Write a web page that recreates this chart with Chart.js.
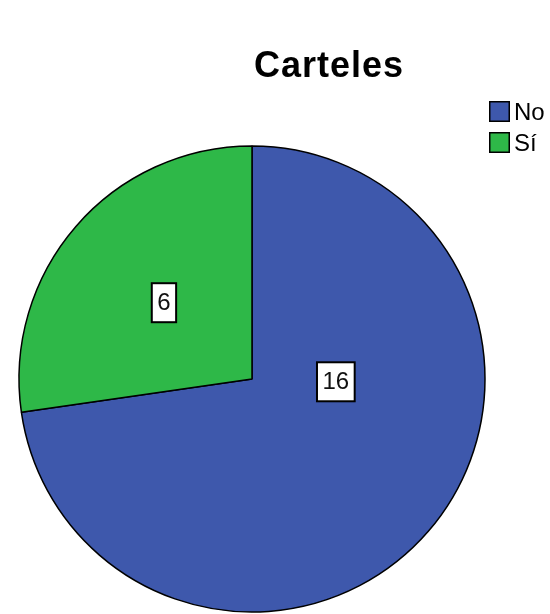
<!DOCTYPE html>
<html>
<head>
<meta charset="utf-8">
<script src="https://cdn.jsdelivr.net/npm/chart.js@4/dist/chart.umd.min.js"></script>
<style>
  html, body { margin: 0; padding: 0; background: #ffffff; overflow: hidden; }
  canvas { display: block; }
</style>
</head>
<body>
<canvas id="c" width="550" height="614"></canvas>
<script>
const titleText = 'Carteles';
const categories = ['No', 'Sí'];
const counts = [16, 6];
const sliceColors = ['#3e58ac', '#2eb848'];
// label placement inside each slice: [fraction of slice angle, fraction of radius]
const labelPlacement = [[0.351, 0.36], [0.5, 0.5]];

const overlayPlugin = {
  id: 'overlay',
  afterDatasetsDraw(chart) {
    const ctx = chart.ctx;
    const meta = chart.getDatasetMeta(0);
    // value labels
    ctx.save();
    ctx.font = '24px "Liberation Sans", Arial, sans-serif';
    ctx.textAlign = 'center';
    ctx.textBaseline = 'middle';
    meta.data.forEach((arc, i) => {
      const p = arc.getProps(['x', 'y', 'startAngle', 'endAngle', 'outerRadius'], true);
      const [fa, fr] = labelPlacement[i];
      const ang = p.startAngle + (p.endAngle - p.startAngle) * fa;
      const r = p.outerRadius * fr;
      const cx = p.x + Math.cos(ang) * r;
      const cy = p.y + Math.sin(ang) * r;
      const txt = String(chart.data.datasets[0].data[i]);
      const tw = ctx.measureText(txt).width;
      const bw = tw + 11, bh = 39;
      ctx.fillStyle = '#ffffff';
      ctx.fillRect(cx - bw / 2, cy - bh / 2, bw, bh);
      ctx.lineWidth = 2;
      ctx.strokeStyle = '#000000';
      ctx.strokeRect(cx - bw / 2, cy - bh / 2, bw, bh);
      ctx.fillStyle = '#111111';
      ctx.fillText(txt, cx, cy + 1);
    });
    ctx.restore();

    // title
    ctx.save();
    ctx.font = 'bold 36px "Liberation Sans", Arial, sans-serif';
    try { ctx.letterSpacing = '1px'; } catch (e) {}
    ctx.fillStyle = '#000000';
    ctx.textAlign = 'center';
    ctx.textBaseline = 'alphabetic';
    ctx.fillText(titleText, 329, 77);
    ctx.restore();

    // legend
    ctx.save();
    ctx.font = '24px "Liberation Sans", Arial, sans-serif';
    ctx.textBaseline = 'middle';
    ctx.textAlign = 'left';
    chart.data.labels.forEach((lab, i) => {
      const y = 101 + i * 31;
      ctx.fillStyle = chart.data.datasets[0].backgroundColor[i];
      ctx.fillRect(489, y, 21, 21);
      ctx.lineWidth = 1.5;
      ctx.strokeStyle = '#000000';
      ctx.strokeRect(489.75, y + 0.75, 19.5, 19.5);
      ctx.fillStyle = '#000000';
      ctx.fillText(lab, 514, y + 12);
    });
    ctx.restore();
  }
};

new Chart(document.getElementById('c'), {
  type: 'pie',
  data: {
    labels: categories,
    datasets: [{
      data: counts,
      backgroundColor: sliceColors,
      borderColor: '#000000',
      borderWidth: 1.5,
      radius: 233
    }]
  },
  options: {
    responsive: false,
    devicePixelRatio: 1,
    animation: false,
    layout: { padding: { left: 0, right: 46, top: 144, bottom: 0 } },
    plugins: {
      legend: { display: false },
      title: { display: false },
      tooltip: { enabled: false }
    },
    events: []
  },
  plugins: [overlayPlugin]
});
</script>
</body>
</html>
